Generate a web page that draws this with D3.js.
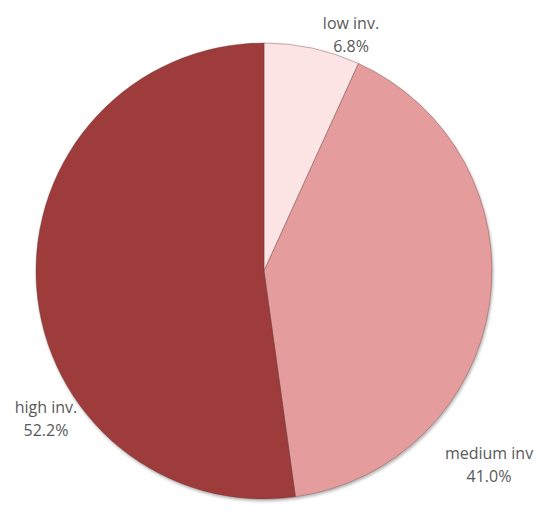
<!DOCTYPE html>
<html><head><meta charset="utf-8">
<script src="https://cdn.jsdelivr.net/npm/d3@7"></script>
<style>html,body{margin:0;padding:0;background:#fff;}</style>
</head><body>
<svg id="chart" width="550" height="528"></svg>
<script>
const categories = ["low inv.", "medium inv", "high inv."];
const values = [6.8, 41.0, 52.2];
const labels = ["6.8%", "41.0%", "52.2%"];
const colors = ["#fde4e4", "#e59c9c", "#9e3a3a"];
const labelPos = [[351, 29], [489, 459], [46, 413]];

const svg = d3.select("#chart");
const cx = 264, cy = 271, r = 228;
const defs = svg.append("defs");
const f = defs.append("filter").attr("id","sh").attr("x","-10%").attr("y","-10%").attr("width","120%").attr("height","120%");
f.append("feDropShadow").attr("dx",1).attr("dy",2).attr("stdDeviation",1.5).attr("flood-color","#000").attr("flood-opacity",0.3);

const pie = d3.pie().sort(null).value(d => d);
const arc = d3.arc().innerRadius(0).outerRadius(r);
const g = svg.append("g").attr("transform", `translate(${cx},${cy})`).attr("filter","url(#sh)");
g.selectAll("path").data(pie(values)).join("path")
  .attr("d", arc)
  .attr("fill", (d,i) => colors[i])
  .attr("stroke", "rgba(90,50,50,0.45)")
  .attr("stroke-width", 0.8);

const t = svg.append("g").attr("font-family","'Open Sans', sans-serif").attr("font-size",16).attr("fill","#595959").attr("text-anchor","middle");
categories.forEach((c,i) => {
  const txt = t.append("text").attr("x", labelPos[i][0]).attr("y", labelPos[i][1]);
  txt.append("tspan").attr("x", labelPos[i][0]).text(c);
  txt.append("tspan").attr("x", labelPos[i][0]).attr("dy", 23).text(labels[i]);
});
</script>
</body></html>
